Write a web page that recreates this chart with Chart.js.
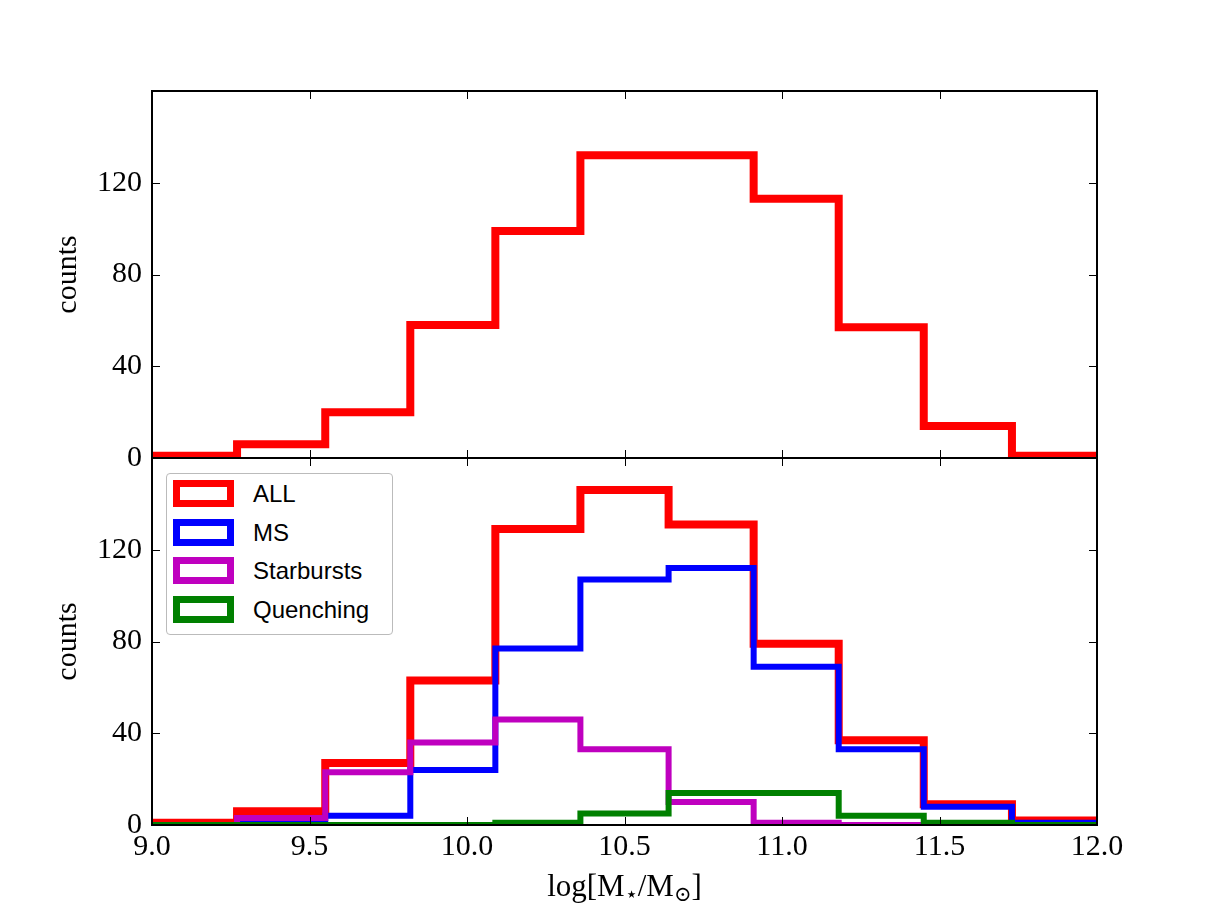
<!DOCTYPE html>
<html>
<head>
<meta charset="utf-8">
<script src="https://cdn.jsdelivr.net/npm/chart.js@4.4.1/dist/chart.umd.min.js"></script>
<style>
  body { margin: 0; background: #fff; }
  #wrap { position: relative; width: 1219px; height: 919px; background: #fff; overflow: hidden; }
  #topChart, #botChart { position: absolute; left: 0; }
  #topChart { top: 0; }
  #botChart { top: 400px; }
  #xtitle {
    position: absolute; left: 0; width: 1249px; top: 866px; text-align: center;
    font-family: "Liberation Serif", "DejaVu Serif", serif; font-size: 31px; line-height: 40px; color: #000;
  }
  #xtitle sub { font-size: 21px; vertical-align: -5px; line-height: 0; }
  #legend {
    position: absolute; left: 166px; top: 473px; width: 225px; height: 160px;
    border: 1px solid #bbb; border-radius: 4px; background: #fff;
    font-family: "Liberation Sans", Arial, sans-serif; font-size: 24px; color: #000;
  }
  .row { position: absolute; left: 0; height: 30px; width: 220px; }
  .box { position: absolute; left: 6px; top: 1px; width: 61px; height: 27px; box-sizing: border-box; border: 7px solid; background: #fff; }
  .lab { position: absolute; left: 86px; top: 0; line-height: 30px; }
</style>
</head>
<body>
<div id="wrap">
  <canvas id="topChart" width="1219" height="500"></canvas>
  <canvas id="botChart" width="1219" height="519"></canvas>
  <div id="xtitle">log[M<sub>⋆</sub>/M<sub>⊙</sub>]</div>
  <div id="legend"></div>
</div>
<script>
// bin edges of the histograms (log stellar mass)
const binEdges = [9.00, 9.27, 9.55, 9.82, 10.09, 10.36, 10.64, 10.91, 11.18, 11.45, 11.73, 12.00];

// top panel: whole sample
const topAll = [1, 6, 20, 58, 99, 132, 132, 113, 57, 14, 1];

// bottom panel
const botAll = [1, 6, 27, 63, 129, 146, 131, 79, 37, 9, 2];
const botMS = [0, 2, 4, 24, 77, 107, 112, 69, 33, 8, 1];
const botStarbursts = [0, 3, 23, 36, 46, 33, 10, 1, 0, 0, 0];
const botQuenching = [0, 0, 0, 0, 1, 5, 14, 14, 4, 1, 0];

const yTicks = [0, 40, 80, 120];
const xTicks = [9.0, 9.5, 10.0, 10.5, 11.0, 11.5, 12.0];

const serif = '"Liberation Serif", "DejaVu Serif", serif';

function stepPoints(counts) {
    let pts = [{x: binEdges[0], y: 0}];
    for (let i = 0; i < counts.length; i++) {
        pts.push({x: binEdges[i], y: counts[i]});
    }
    pts.push({x: binEdges[binEdges.length - 1], y: counts[counts.length - 1]});
    pts.push({x: binEdges[binEdges.length - 1], y: 0});
    return pts;
}

function histSet(label, counts, color, width, order) {
    return {
        label: label,
        data: stepPoints(counts),
        borderColor: color,
        backgroundColor: '#fff',
        borderWidth: width,
        stepped: 'before',
        pointRadius: 0,
        fill: false,
        clip: 0,
        order: order,
        borderJoinStyle: 'miter',
        borderCapStyle: 'butt'
    };
}

// frame + inward ticks, like the matplotlib axes
const frameTicks = {
    id: 'frameTicks',
    afterDraw(chart) {
        const {ctx, chartArea: a} = chart;
        const x = chart.scales.x, y = chart.scales.y;
        ctx.save();
        ctx.strokeStyle = '#000';
        ctx.lineWidth = 1;
        ctx.beginPath();
        xTicks.forEach(v => {
            const px = Math.round(x.getPixelForValue(v)) + 0.5;
            if (px <= a.left + 2 || px >= a.right - 2) return;
            ctx.moveTo(px, a.top); ctx.lineTo(px, a.top + 8);
            ctx.moveTo(px, a.bottom); ctx.lineTo(px, a.bottom - 8);
        });
        yTicks.forEach(v => {
            const py = Math.round(y.getPixelForValue(v)) + 0.5;
            if (py <= a.top + 2 || py >= a.bottom - 2) return;
            ctx.moveTo(a.left, py); ctx.lineTo(a.left + 8, py);
            ctx.moveTo(a.right, py); ctx.lineTo(a.right - 8, py);
        });
        ctx.stroke();
        ctx.lineWidth = 2;
        ctx.strokeRect(a.left, a.top, a.right - a.left, a.bottom - a.top);
        ctx.restore();
    }
};

function makeOptions(padTop, xHeight, showXLabels) {
    return {
        responsive: false,
        animation: false,
        layout: {padding: {top: padTop, right: 122, left: 0, bottom: 0}},
        plugins: {legend: {display: false}, tooltip: {enabled: false}},
        scales: {
            x: {
                type: 'linear',
                min: 9, max: 12,
                afterBuildTicks: s => { s.ticks = xTicks.map(v => ({value: v})); },
                afterFit: s => { s.height = xHeight; },
                grid: {display: false, drawTicks: false},
                border: {display: false},
                ticks: {
                    display: showXLabels,
                    padding: 4,
                    color: '#000',
                    font: {family: serif, size: 30},
                    maxRotation: 0,
                    autoSkip: false,
                    callback: v => v.toFixed(1)
                }
            },
            y: {
                min: 0, max: 160,
                afterBuildTicks: s => { s.ticks = yTicks.map(v => ({value: v})); },
                afterFit: s => { s.width = 152; },
                grid: {display: false, drawTicks: false},
                border: {display: false},
                ticks: {
                    padding: 10,
                    color: '#000',
                    font: {family: serif, size: 30}
                },
                title: {
                    display: true,
                    text: 'counts',
                    color: '#000',
                    font: {family: serif, size: 30},
                    padding: {top: 50, bottom: 0}
                }
            }
        }
    };
}

new Chart(document.getElementById('topChart'), {
    type: 'line',
    data: {datasets: [histSet('ALL', topAll, '#ff0000', 8, 1)]},
    options: makeOptions(91, 42, false),
    plugins: [frameTicks]
});

new Chart(document.getElementById('botChart'), {
    type: 'line',
    data: {
        datasets: [
            histSet('ALL', botAll, '#ff0000', 8, 4),
            histSet('MS', botMS, '#0000ff', 6, 3),
            histSet('Starbursts', botStarbursts, '#bf00bf', 6, 2),
            histSet('Quenching', botQuenching, '#008000', 6, 1)
        ]
    },
    options: makeOptions(58, 94, true),
    plugins: [frameTicks]
});

// legend (matplotlib style, upper left of the bottom panel)
const legendItems = [['ALL', '#ff0000'], ['MS', '#0000ff'], ['Starbursts', '#bf00bf'], ['Quenching', '#008000']];
const legend = document.getElementById('legend');
legendItems.forEach((it, i) => {
    const row = document.createElement('div');
    row.className = 'row';
    row.style.top = (5 + i * 38.6) + 'px';
    row.innerHTML = '<div class="box" style="border-color:' + it[1] + '"></div><div class="lab">' + it[0] + '</div>';
    legend.appendChild(row);
});
</script>
</body>
</html>
